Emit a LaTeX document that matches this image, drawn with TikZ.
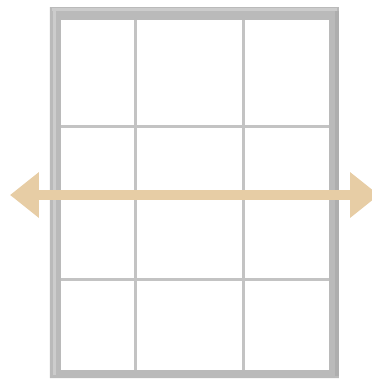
\documentclass[tikz,border=0pt]{standalone}
\usepackage{tikz}
\usetikzlibrary{arrows.meta,positioning,calc}
\definecolor{framegray}{HTML}{BABABA}
\definecolor{framelight}{HTML}{CCCCCC}
\definecolor{framedark}{HTML}{AEAEAE}
\definecolor{mullion}{HTML}{C3C3C3}
\definecolor{sand}{HTML}{E7CDA5}

\begin{document}
\begin{tikzpicture}[
    x=0.02cm, y=-0.02cm,
    framebar/.style={fill=framegray, draw=none, even odd rule},
    glassbar/.style={draw=mullion, line width=0.06cm},
    widearrow/.style={draw=sand, line width=0.19cm,
        {Triangle[length=0.58cm, width=0.88cm]}-{Triangle[length=0.58cm, width=0.88cm]}},
]
    \useasboundingbox (0,0) rectangle (372,380);
    \clip (0,0) rectangle (372,380);

    % Window frame
    \coordinate (fo1) at (50,7);
    \coordinate (fo2) at (339,378);
    \coordinate (fi1) at (61,20);
    \coordinate (fi2) at (329,370);
    \path[framebar] (fo1) rectangle (fo2) (fi1) rectangle (fi2);
    \fill[framelight] (52,8) rectangle (337,11);
    \fill[framelight] (53,11) rectangle (56,375);
    \fill[framedark] (335,11) rectangle (339,376);
    \fill[white] (fi1) rectangle (fi2);

    % Glazing bars
    \draw[glassbar] (136,20) -- (136,370);
    \draw[glassbar] (243.5,20) -- (243.5,370);
    \draw[glassbar] (61,126) -- (329,126);
    \draw[glassbar] (61,279) -- (329,279);

    % Double arrow across the window
    \coordinate (lefttip) at (10,195);
    \coordinate (righttip) at (379,195);
    \draw[widearrow] (lefttip) -- (righttip);
\end{tikzpicture}
\end{document}
